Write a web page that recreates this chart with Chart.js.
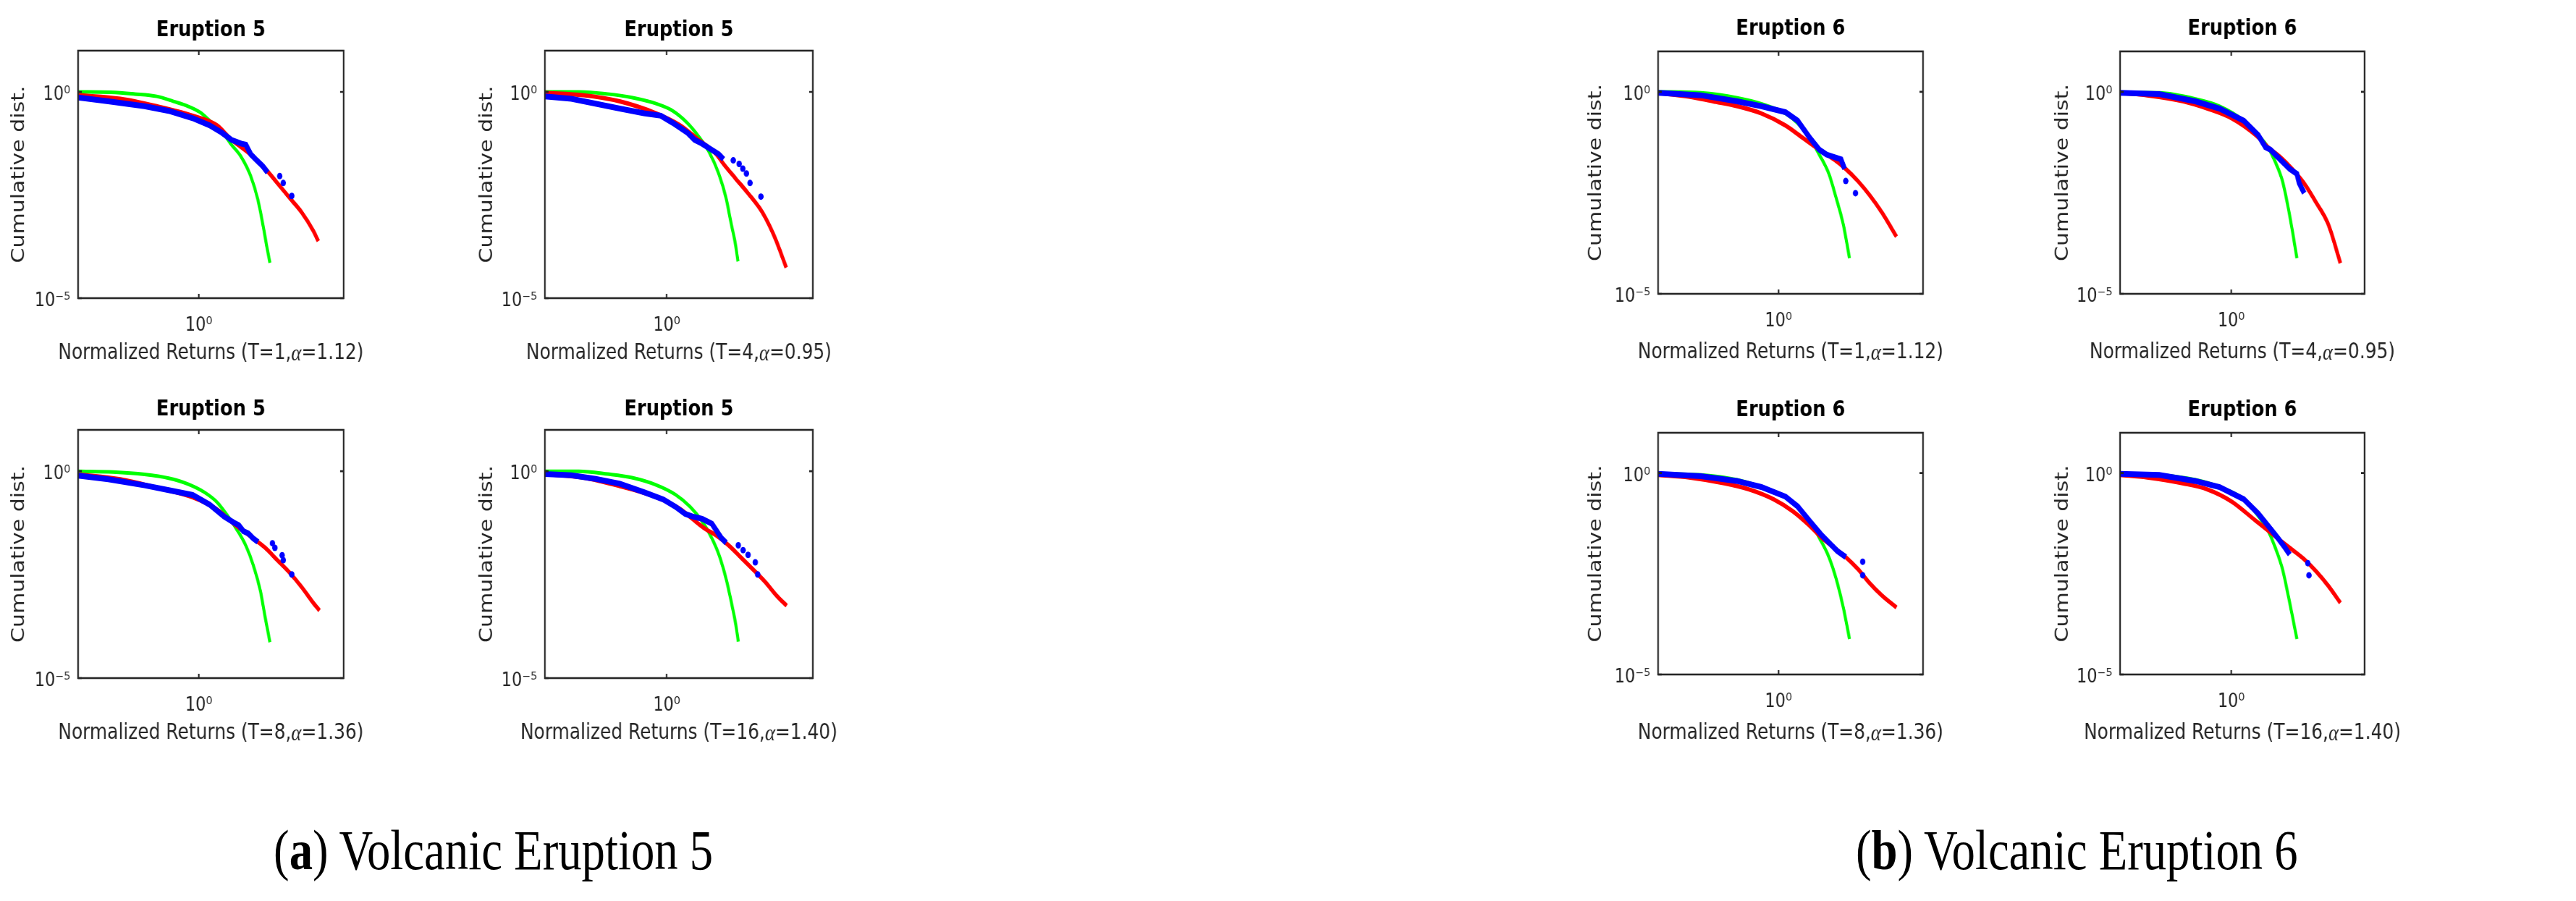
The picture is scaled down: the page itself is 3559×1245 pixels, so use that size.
<!DOCTYPE html>
<html><head><meta charset="utf-8">
<script src="https://cdn.jsdelivr.net/npm/chart.js@4.4.0/dist/chart.umd.min.js"></script>
<style>
html,body{margin:0;padding:0;background:#fff;width:3559px;height:1245px;overflow:hidden;}
#stage{position:absolute;left:0;top:0;width:4288px;height:1245px;transform:scaleX(0.83);transform-origin:0 0;}
#stage canvas{position:absolute;}
.cap{position:absolute;font-family:"Liberation Serif","DejaVu Serif",serif;font-size:78px;line-height:78px;white-space:nowrap;color:#000;}
</style></head><body><div id="stage"></div>
<script>
// ---- axis ranges and tick labels ----
const xRange = [0.01, 251.19];
const yRange = [1e-5, 10];
const xTickValues = [1];
const xTickLabels = ['10⁰'];
const yTickValues = [1e-5, 1];
const yTickLabels = ['10⁻⁵', '10⁰'];

// ---- Eruption 5, T=1 ----
const e5t1_gx = [0.01,0.0347,0.087,0.20,0.38,0.66,1.05,1.66,2.40,3.47,5.01,7.24,9.55,11.5,13.8,15.1];
const e5t1_gy = [1.0,0.98,0.89,0.78,0.59,0.45,0.32,0.177,0.110,0.0527,0.0269,0.0091,0.0024,0.00062,0.00014,0.000072];
const e5t1_rx = [0.01,0.050,0.20,0.79,2.0,3.47,5.01,7.94,12.6,20.0,31.6,50.1,79.4,95.5];
const e5t1_ry = [0.83,0.68,0.45,0.265,0.155,0.069,0.046,0.0269,0.0138,0.0062,0.00275,0.00123,0.00042,0.00024];
const e5t1_bx = [0.01,0.0316,0.126,0.316,0.79,1.51,2.40,3.47,5.0,6.0,7.24,9.1,11.5,13.8,21.9,25.1,34.7];
const e5t1_by = [0.73,0.59,0.45,0.347,0.231,0.155,0.103,0.069,0.056,0.0525,0.031,0.022,0.0158,0.0112,0.0091,0.0062,0.0030];
// ---- Eruption 5, T=4 ----
const e5t4_gx = [0.01,0.0359,0.107,0.267,0.667,1.26,2.18,3.44,4.97,7.14,9.4,11.3,13.6,14.8];
const e5t4_gy = [1.0,1.0,0.89,0.73,0.52,0.347,0.177,0.079,0.035,0.0105,0.00275,0.00071,0.000186,0.0000776];
const e5t4_rx = [0.01,0.043,0.169,0.667,1.66,3.14,6.52,8.57,13.5,21.4,37.0,58.3,92.0];
const e5t4_ry = [0.95,0.83,0.59,0.303,0.155,0.074,0.031,0.018,0.0080,0.00357,0.00122,0.00032,0.000055];
const e5t4_bx = [0.01,0.0273,0.0679,0.169,0.422,0.80,1.26,2.18,2.87,3.78,5.43,7.14,8.57,12.4,15.5,17.8,20.4,23.4,35.3];
const e5t4_by = [0.78,0.68,0.52,0.396,0.303,0.265,0.177,0.103,0.069,0.056,0.040,0.031,0.0234,0.0219,0.018,0.0138,0.0105,0.0062,0.0029];
// ---- Eruption 5, T=8 ----
const e5t8_gx = [0.01,0.038,0.126,0.316,0.66,1.26,2.0,2.88,4.17,6.03,7.94,10.5,12.6,15.1];
const e5t8_gy = [1.0,0.96,0.84,0.68,0.49,0.305,0.179,0.091,0.041,0.0158,0.0055,0.00126,0.00029,0.000074];
const e5t8_rx = [0.01,0.050,0.20,0.79,2.0,3.8,7.94,12.6,20.0,31.6,50.1,79.4,100];
const e5t8_ry = [0.84,0.64,0.40,0.234,0.12,0.054,0.024,0.0141,0.0071,0.0036,0.00162,0.00065,0.00043];
const e5t8_bx = [0.01,0.0316,0.126,0.316,0.79,1.51,2.63,3.8,4.57,5.5,6.6,7.94,9.55,16.6,18.2,24.0,25.1,34.7];
const e5t8_by = [0.78,0.64,0.457,0.35,0.267,0.156,0.080,0.0575,0.050,0.0355,0.0316,0.024,0.0195,0.0182,0.0141,0.0093,0.0071,0.0032];
// ---- Eruption 5, T=16 ----
const e5t16_gx = [0.01,0.036,0.108,0.269,0.67,1.39,2.42,3.81,5.5,7.23,9.5,11.4,13.7,15.0];
const e5t16_gy = [1.0,1.0,0.855,0.70,0.467,0.273,0.139,0.062,0.0243,0.0095,0.00245,0.00074,0.00019,0.000076];
const e5t16_rx = [0.01,0.0431,0.170,0.67,1.67,2.64,4.18,6.6,10.4,16.5,26.0,41.1,64.9,93.5];
const e5t16_ry = [0.855,0.70,0.437,0.238,0.122,0.071,0.0417,0.0277,0.0162,0.0083,0.00427,0.00214,0.00096,0.00056];
const e5t16_bx = [0.01,0.0274,0.0682,0.170,0.425,0.883,1.39,2.01,2.64,3.81,5.5,6.6,7.9,9.5,15.0,18.0,21.7,28.5,31.2];
const e5t16_by = [0.855,0.80,0.653,0.50,0.312,0.208,0.139,0.093,0.081,0.071,0.0543,0.0363,0.0243,0.0186,0.0162,0.0124,0.0095,0.0063,0.0032];
// ---- Eruption 6, T=1 ----
const e6t1_gx = [0.01,0.0516,0.206,0.519,1.30,2.07,3.28,4.75,6.87,9.06,11.9,15.1];
const e6t1_gy = [1.0,0.94,0.71,0.505,0.291,0.168,0.0736,0.028,0.0093,0.00236,0.00052,0.000076];
const e6t1_rx = [0.01,0.0326,0.082,0.206,0.519,1.31,2.49,4.75,8.26,13.1,20.8,33.0,52.2,91.0];
const e6t1_ry = [0.94,0.76,0.58,0.44,0.291,0.146,0.0736,0.037,0.0214,0.0123,0.0062,0.0027,0.00103,0.00026];
const e6t1_bx = [0.01,0.0516,0.206,0.519,1.31,2.07,3.28,4.75,6.27,8.26,10.9,12.5,13.1,19.0];
const e6t1_by = [0.94,0.82,0.58,0.44,0.312,0.193,0.0736,0.037,0.028,0.0245,0.0214,0.0123,0.0062,0.0031];
// ---- Eruption 6, T=4 ----
const e6t4_gx = [0.01,0.0506,0.228,0.618,1.68,3.07,4.58,6.18,8.36,10.2,12.5,15.2];
const e6t4_gy = [0.96,0.94,0.665,0.44,0.193,0.0843,0.0425,0.0186,0.0062,0.00179,0.00039,0.000076];
const e6t4_rx = [0.01,0.0307,0.138,0.375,1.02,2.78,4.58,7.55,12.5,20.6,34.0,56.0,92.3];
const e6t4_ry = [0.94,0.82,0.58,0.384,0.221,0.0843,0.0425,0.0245,0.0123,0.0054,0.00179,0.00052,0.0000575];
const e6t4_bx = [0.01,0.0506,0.228,0.618,1.68,3.07,4.14,5.06,7.55,11.3,15.2,16.8,20.6];
const e6t4_by = [0.94,0.875,0.58,0.384,0.193,0.0843,0.0425,0.037,0.0213,0.0123,0.0093,0.0054,0.0031];
// ---- Eruption 6, T=8 ----
const e6t8_gx = [0.01,0.0516,0.206,0.519,1.31,2.07,3.28,4.75,6.87,9.06,11.9,15.1];
const e6t8_gy = [0.96,0.90,0.68,0.45,0.259,0.149,0.065,0.0248,0.0082,0.00238,0.00046,0.000076];
const e6t8_rx = [0.01,0.0326,0.130,0.327,0.822,1.72,3.28,5.21,8.26,13.1,20.8,33.0,52.2,91.0];
const e6t8_ry = [0.90,0.78,0.553,0.392,0.225,0.113,0.0495,0.0248,0.0143,0.0082,0.00414,0.00181,0.00091,0.00046];
const e6t8_bx = [0.01,0.0516,0.206,0.519,1.31,2.07,3.28,5.21,7.53,9.48,13.1,25.0,25.0];
const e6t8_by = [0.96,0.835,0.634,0.45,0.259,0.149,0.065,0.0285,0.0164,0.0116,0.0082,0.0063,0.0029];
// ---- Eruption 6, T=16 ----
const e6t16_gx = [0.01,0.0506,0.228,0.618,1.68,3.07,4.58,6.18,8.36,10.2,12.5,15.2];
const e6t16_gy = [0.96,0.90,0.68,0.45,0.225,0.086,0.0376,0.0143,0.00414,0.0012,0.0003,0.000076];
const e6t16_rx = [0.01,0.0307,0.138,0.375,1.02,2.78,4.58,7.55,12.5,20.6,34.0,56.0,92.3];
const e6t16_ry = [0.90,0.78,0.553,0.392,0.196,0.065,0.0376,0.0216,0.0125,0.0072,0.0036,0.00158,0.0006];
const e6t16_bx = [0.01,0.0506,0.228,0.618,1.68,3.07,4.58,6.84,9.23,11.3,23.9,25.1];
const e6t16_by = [0.96,0.90,0.634,0.45,0.225,0.0986,0.0495,0.0248,0.0143,0.0095,0.0058,0.0029];

// index where the isolated (sparse) empirical points begin
const blueTailStart = {e5t1:14, e5t4:13, e5t8:13, e5t16:14, e6t1:12, e6t4:13, e6t8:11, e6t16:10};

const panelTitles = {e5:'Eruption 5', e6:'Eruption 6'};
const xLabels = {t1:'Normalized Returns (T=1,α=1.12)', t4:'Normalized Returns (T=4,α=0.95)',
                 t8:'Normalized Returns (T=8,α=1.36)', t16:'Normalized Returns (T=16,α=1.40)'};
const captions = [['(', 'a', ') Volcanic Eruption 5'], ['(', 'b', ') Volcanic Eruption 6']];

const pts = (xs, ys) => xs.map((x, i) => ({x, y: ys[i]}));
const D = {e5t1:[e5t1_gx,e5t1_gy,e5t1_rx,e5t1_ry,e5t1_bx,e5t1_by],
           e5t4:[e5t4_gx,e5t4_gy,e5t4_rx,e5t4_ry,e5t4_bx,e5t4_by],
           e5t8:[e5t8_gx,e5t8_gy,e5t8_rx,e5t8_ry,e5t8_bx,e5t8_by],
           e5t16:[e5t16_gx,e5t16_gy,e5t16_rx,e5t16_ry,e5t16_bx,e5t16_by],
           e6t1:[e6t1_gx,e6t1_gy,e6t1_rx,e6t1_ry,e6t1_bx,e6t1_by],
           e6t4:[e6t4_gx,e6t4_gy,e6t4_rx,e6t4_ry,e6t4_bx,e6t4_by],
           e6t8:[e6t8_gx,e6t8_gy,e6t8_rx,e6t8_ry,e6t8_bx,e6t8_by],
           e6t16:[e6t16_gx,e6t16_gy,e6t16_rx,e6t16_ry,e6t16_bx,e6t16_by]};

// layout (logical px, stage is scaled 0.83 horizontally)
const layout = [
  {k:'e5t1',  e:'e5', t:'t1',  L:130,  T:70,  W:442, H:342, ytPad:14, tGap:28, xlGap:76},
  {k:'e5t4',  e:'e5', t:'t4',  L:907,  T:70,  W:446, H:342, ytPad:16, tGap:28, xlGap:76},
  {k:'e5t8',  e:'e5', t:'t8',  L:130,  T:594, W:442, H:343, ytPad:14, tGap:28, xlGap:76},
  {k:'e5t16', e:'e5', t:'t16', L:907,  T:594, W:446, H:343, ytPad:16, tGap:28, xlGap:76},
  {k:'e6t1',  e:'e6', t:'t1',  L:2760, T:71,  W:441, H:335, ytPad:9,  tGap:31, xlGap:81},
  {k:'e6t4',  e:'e6', t:'t4',  L:3529, T:71,  W:407, H:335, ytPad:17, tGap:31, xlGap:81},
  {k:'e6t8',  e:'e6', t:'t8',  L:2760, T:598, W:441, H:334, ytPad:9,  tGap:31, xlGap:81},
  {k:'e6t16', e:'e6', t:'t16', L:3529, T:598, W:407, H:334, ytPad:17, tGap:31, xlGap:81}
];

const FONT = '"DejaVu Sans", sans-serif';
const AXC = '#262626';
Chart.defaults.font.family = FONT;

const framePlugin = {
  id: 'frame',
  afterDraw(chart, args, o) {
    const {ctx, chartArea: a, scales} = chart;
    ctx.save();
    ctx.strokeStyle = AXC; ctx.lineWidth = 2.6;
    ctx.strokeRect(a.left, a.top, a.width, a.height);
    const tl = 6;
    ctx.beginPath();
    xTickValues.forEach(v => {
      const px = scales.x.getPixelForValue(v);
      ctx.moveTo(px, a.bottom); ctx.lineTo(px, a.bottom - tl);
      ctx.moveTo(px, a.top); ctx.lineTo(px, a.top + tl);
    });
    yTickValues.forEach(v => {
      const py = scales.y.getPixelForValue(v);
      ctx.moveTo(a.left, py); ctx.lineTo(a.left + tl, py);
      ctx.moveTo(a.right, py); ctx.lineTo(a.right - tl, py);
    });
    ctx.stroke();
    const cx = (a.left + a.right) / 2;
    ctx.textBaseline = 'middle';
    ctx.textAlign = 'center';
    ctx.fillStyle = '#000';
    ctx.font = 'bold 31px ' + FONT;
    ctx.fillText(o.title, cx, a.top - o.tGap);
    // x label with italic alpha
    ctx.fillStyle = AXC;
    const yl = a.bottom + o.xlGap;
    const parts = o.xlabel.split('α');
    const fN = '30px ' + FONT, fI = 'italic 32px "Liberation Serif", serif';
    ctx.font = fN; const w0 = ctx.measureText(parts[0]).width, w1 = ctx.measureText(parts[1]).width;
    ctx.font = fI; const wa = ctx.measureText('α').width;
    let x = cx - (w0 + wa + w1) / 2;
    ctx.textAlign = 'left';
    ctx.font = fN; ctx.fillText(parts[0], x, yl); x += w0;
    ctx.font = fI; ctx.fillText('α', x, yl + 2); x += wa;
    ctx.font = fN; ctx.fillText(parts[1], x, yl);
    ctx.restore();
  }
};

const stage = document.getElementById('stage');
layout.forEach(p => {
  const [gx, gy, rx, ry, bx, by] = D[p.k];
  const tail = blueTailStart[p.k];
  const cv = document.createElement('canvas');
  cv.width = p.W + 260; cv.height = p.H + 175;
  cv.style.left = (p.L - 130) + 'px'; cv.style.top = (p.T - 75) + 'px';
  cv.style.width = cv.width + 'px'; cv.style.height = cv.height + 'px';
  stage.appendChild(cv);
  new Chart(cv, {
    type: 'scatter',
    data: {datasets: [
      {label:'data', data: pts(bx, by), showLine: true, borderColor:'#0000ff', backgroundColor:'#0000ff',
       borderWidth: 8, tension: 0,
       pointRadius: c => c.dataIndex >= tail ? 4.5 : 0, pointBorderWidth: 0, pointBackgroundColor:'#0000ff',
       segment: {borderColor: c => c.p0DataIndex >= tail - 1 ? 'rgba(0,0,0,0)' : undefined}},
      {label:'stable', data: pts(rx, ry), showLine: true, borderColor:'#ff0000', borderWidth: 6,
       pointRadius: 0, cubicInterpolationMode: 'monotone'},
      {label:'gauss', data: pts(gx, gy), showLine: true, borderColor:'#00ff00', borderWidth: 5,
       pointRadius: 0, cubicInterpolationMode: 'monotone'}
    ]},
    options: {
      responsive: false, animation: false, devicePixelRatio: 1,
      layout: {padding: {left: 0, right: 130, top: 75, bottom: 0}},
      plugins: {legend: {display: false}, tooltip: {enabled: false},
        frame: {title: panelTitles[p.e], xlabel: xLabels[p.t], tGap: p.tGap, xlGap: p.xlGap}},
      scales: {
        x: {type: 'logarithmic', min: xRange[0], max: xRange[1],
            grid: {display: false, drawTicks: false}, border: {display: false},
            afterBuildTicks: s => { s.ticks = xTickValues.map(v => ({value: v})); },
            afterFit: s => { s.height = 100; },
            ticks: {padding: 22, maxRotation: 0, autoSkip: false, color: AXC, font: {size: 27},
                    callback: v => xTickLabels[xTickValues.indexOf(v)]}},
        y: {type: 'logarithmic', min: yRange[0], max: yRange[1],
            grid: {display: false, drawTicks: false}, border: {display: false},
            afterBuildTicks: s => { s.ticks = yTickValues.map(v => ({value: v})); },
            afterFit: s => { s.width = 130; },
            ticks: {padding: 13, autoSkip: false, color: AXC, font: {size: 27}, labelOffset: 4,
                    callback: v => yTickLabels[yTickValues.indexOf(v)]},
            title: {display: true, text: 'Cumulative dist.', color: AXC, font: {size: 30},
                    padding: {top: p.ytPad, bottom: 0}}}
      }
    },
    plugins: [framePlugin]
  });
});

// captions
const capPos = [{right: 4288 - 1187, top: 1136}, {right: 4288 - 3825, top: 1136}];
captions.forEach((c, i) => {
  const d = document.createElement('div');
  d.className = 'cap';
  d.style.right = capPos[i].right + 'px'; d.style.top = capPos[i].top + 'px';
  d.appendChild(document.createTextNode(c[0]));
  const b = document.createElement('b'); b.textContent = c[1]; d.appendChild(b);
  d.appendChild(document.createTextNode(c[2]));
  stage.appendChild(d);
});
</script></body></html>
